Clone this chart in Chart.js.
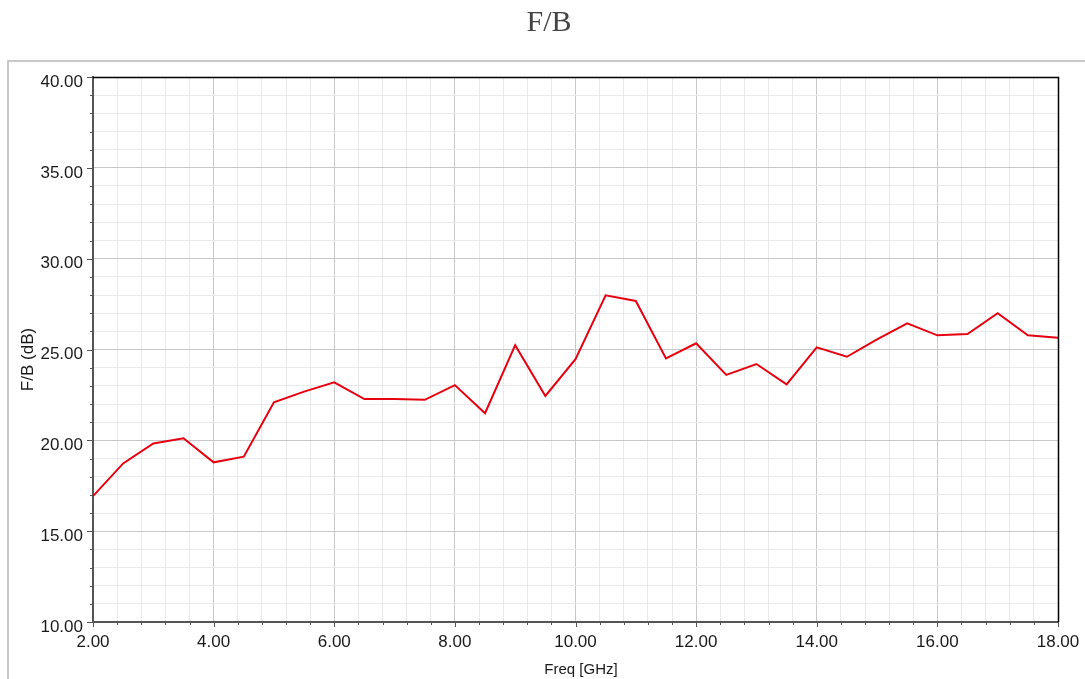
<!DOCTYPE html>
<html><head><meta charset="utf-8">
<script src="https://cdn.jsdelivr.net/npm/chart.js@4/dist/chart.umd.min.js"></script>
<style>html,body{margin:0;padding:0;background:#fff;overflow:hidden}canvas{display:block}</style>
</head><body>
<canvas id="c" width="1085" height="679"></canvas>
<script>
const chartTitle = 'F/B';
const xAxisTitle = 'Freq [GHz]';
const yAxisTitle = 'F/B (dB)';
const freqGHz = [2.0,2.5,3.0,3.5,4.0,4.5,5.0,5.5,6.0,6.5,7.0,7.5,8.0,8.5,9.0,9.5,10.0,10.5,11.0,11.5,12.0,12.5,13.0,13.5,14.0,14.5,15.0,15.5,16.0,16.5,17.0,17.5,18.0];
const fbDb = [16.93,18.73,19.83,20.11,18.79,19.10,22.09,22.68,23.19,22.27,22.27,22.23,23.04,21.49,25.24,22.44,24.47,27.98,27.67,24.51,25.34,23.60,24.20,23.08,25.12,24.60,25.56,26.44,25.78,25.85,27.00,25.78,25.65];
const xMajorTicks = [2,4,6,8,10,12,14,16,18];
const yMajorTicks = [10,15,20,25,30,35,40];
const xSubdiv = 5;
const ySubdiv = 5;

function withMinor(major, sub){
  const out = [];
  for (let i = 0; i < major.length; i++){
    out.push({value: major[i], major: true});
    if (i < major.length - 1){
      const step = (major[i+1]-major[i])/sub;
      for (let k = 1; k < sub; k++) out.push({value: +(major[i]+k*step).toFixed(6), major: false});
    }
  }
  return out;
}
const xTicks = withMinor(xMajorTicks, xSubdiv);
const yTicks = withMinor(yMajorTicks, ySubdiv);
const isMajor = (arr, v) => arr.some(m => Math.abs(m - v) < 1e-6);

const tickFont = {family: '"Liberation Sans", Arial, sans-serif', size: 17};

const decor = {
  id: 'decor',
  beforeDraw(chart){
    const ctx = chart.ctx;
    ctx.save();
    ctx.fillStyle = '#fff';
    ctx.fillRect(0,0,chart.width,chart.height);
    ctx.strokeStyle = '#c8c8c8';
    ctx.lineWidth = 2;
    ctx.beginPath();
    ctx.moveTo(8, chart.height);
    ctx.lineTo(8, 61);
    ctx.lineTo(chart.width, 61);
    ctx.stroke();
    ctx.restore();
  },
  afterDraw(chart){
    const ctx = chart.ctx, a = chart.chartArea;
    const xs = chart.scales.x, ys = chart.scales.y;
    ctx.save();
    ctx.strokeStyle = '#000';
    ctx.lineWidth = 1.5;
    ctx.beginPath();
    ctx.moveTo(a.left, a.top + 0.5);
    ctx.lineTo(a.right + 0.5, a.top + 0.5);
    ctx.lineTo(a.right + 0.5, a.bottom);
    ctx.stroke();
    ctx.strokeStyle = '#555';
    ctx.lineWidth = 1;
    ctx.beginPath();
    xTicks.forEach(t => {
      const px = Math.round(xs.getPixelForValue(t.value)) + 0.5;
      const len = t.major ? 5 : 3;
      ctx.moveTo(px, a.bottom);
      ctx.lineTo(px, a.bottom + len);
    });
    yTicks.forEach(t => {
      const py = Math.round(ys.getPixelForValue(t.value)) + 0.5;
      const len = t.major ? 6 : 3;
      ctx.moveTo(a.left - len, py);
      ctx.lineTo(a.left, py);
    });
    ctx.stroke();
    ctx.fillStyle = '#444';
    ctx.font = '30px "Liberation Serif", "Times New Roman", serif';
    ctx.textAlign = 'center';
    ctx.textBaseline = 'alphabetic';
    ctx.fillText(chartTitle, 549, 31);
    ctx.fillStyle = '#1a1a1a';
    ctx.font = '15px "Liberation Sans", Arial, sans-serif';
    ctx.fillText(xAxisTitle, 581, 674);
    ctx.translate(33, 359.5);
    ctx.rotate(-Math.PI/2);
    ctx.font = '17px "Liberation Sans", Arial, sans-serif';
    ctx.fillText(yAxisTitle, 0, 0);
    ctx.restore();
  }
};

new Chart(document.getElementById('c'), {
  type: 'line',
  data: {
    datasets: [{
      data: freqGHz.map((f,i) => ({x: f, y: fbDb[i]})),
      borderColor: '#e6000f',
      borderWidth: 2,
      pointRadius: 0,
      tension: 0,
      fill: false
    }]
  },
  options: {
    responsive: false,
    animation: false,
    devicePixelRatio: 1,
    layout: {padding: {top: 77, right: 27, left: 0, bottom: 0}},
    plugins: {legend: {display: false}, title: {display: false}, tooltip: {enabled: false}},
    scales: {
      x: {
        type: 'linear', min: 2, max: 18,
        afterBuildTicks: s => { s.ticks = xTicks.map(t => ({value: t.value})); },
        afterFit: s => { s.height = 57; s.paddingLeft = 0; s.paddingRight = 0; },
        ticks: {
          autoSkip: false, maxRotation: 0, minRotation: 0, padding: 10,
          font: tickFont, color: '#1a1a1a',
          callback: v => isMajor(xMajorTicks, v) ? v.toFixed(2) : ''
        },
        grid: {
          drawTicks: false, lineWidth: 1,
          color: c => isMajor(xMajorTicks, c.tick.value) ? '#c8c8c8' : '#e9e9e9'
        },
        border: {display: true, color: '#555', width: 2}
      },
      y: {
        type: 'linear', min: 10, max: 40,
        afterBuildTicks: s => { s.ticks = yTicks.map(t => ({value: t.value})); },
        afterFit: s => { s.width = 93; s.paddingTop = 0; s.paddingBottom = 0; },
        ticks: {
          autoSkip: false, padding: 10, labelOffset: 5,
          font: tickFont, color: '#1a1a1a',
          callback: v => isMajor(yMajorTicks, v) ? v.toFixed(2) : ''
        },
        grid: {
          drawTicks: false, lineWidth: 1,
          color: c => isMajor(yMajorTicks, c.tick.value) ? '#c8c8c8' : '#e9e9e9'
        },
        border: {display: true, color: '#555', width: 2}
      }
    }
  },
  plugins: [decor]
});
</script>
</body></html>
